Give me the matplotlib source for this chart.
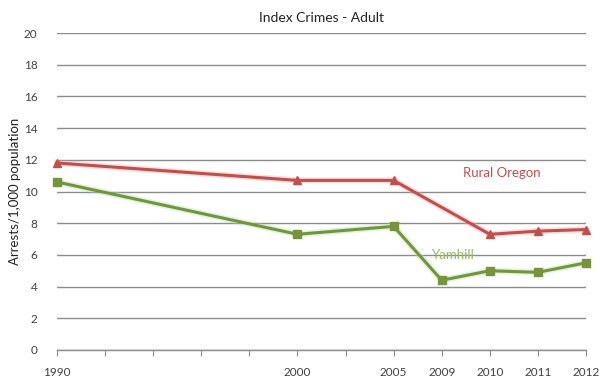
import matplotlib.pyplot as plt
import numpy as np

# category axis: blank slots keep the spacing between labelled years
categories = ['1990', '', '', '', '', '2000', '', '2005', '2009', '2010', '2011', '2012']
rural_oregon = [11.8, np.nan, np.nan, np.nan, np.nan, 10.7, np.nan, 10.7, np.nan, 7.3, 7.5, 7.6]
yamhill = [10.6, np.nan, np.nan, np.nan, np.nan, 7.3, np.nan, 7.8, 4.4, 5.0, 4.9, 5.5]

RED = '#C0504D'
GREEN = '#77933C'
TEXT = '#404040'

plt.rcParams['font.family'] = ['Lato', 'DejaVu Sans']

fig = plt.figure(figsize=(6.04, 3.81), dpi=100, facecolor='white')
ax = fig.add_axes([57 / 604, 31 / 381, 529 / 604, 317 / 381])

x = np.arange(len(categories))


def plot_series(vals, color, glow, marker, ms):
    vals = np.array(vals, dtype=float)
    keep = ~np.isnan(vals)
    # soft halo under the line only
    ax.plot(x[keep], vals[keep], color=glow, lw=4.5, alpha=0.35, zorder=2,
            solid_joinstyle='round', clip_on=False)
    ax.plot(x[keep], vals[keep], color=color, lw=2.2, marker=marker, ms=ms,
            markeredgecolor=color, zorder=3, clip_on=False)


plot_series(rural_oregon, RED, '#F4A6A4', '^', 5.5)
plot_series(yamhill, GREEN, '#9EE3AA', 's', 6)

ax.set_xlim(0, len(categories) - 1)
ax.set_ylim(0, 20)
ax.set_yticks(range(0, 21, 2))
ax.grid(axis='y', color='#8C8C8C', lw=1.0)
ax.set_axisbelow(True)

ax.set_xticks(x)
ax.set_xticklabels(categories)
ax.tick_params(axis='x', direction='out', length=4, color='#8C8C8C',
               labelsize=8.5, labelcolor=TEXT, pad=8)
ax.tick_params(axis='y', length=0, labelsize=8.5, labelcolor=TEXT, pad=14)

for side in ['top', 'right', 'left']:
    ax.spines[side].set_visible(False)
ax.spines['bottom'].set_color('#8C8C8C')
ax.spines['bottom'].set_linewidth(1.0)

ax.set_title('Index Crimes - Adult', fontsize=10, color='#222222', pad=8)
ax.set_ylabel('Arrests/1,000 population', fontsize=9.5, color='#222222', labelpad=2)

ax.text(8.45, 11.15, 'Rural Oregon', color=RED, fontsize=9.5, va='center')
ax.text(7.8, 6.0, 'Yamhill', color='#9BB563', fontsize=9.5, va='center')

fig.savefig('out.png', dpi=100)
